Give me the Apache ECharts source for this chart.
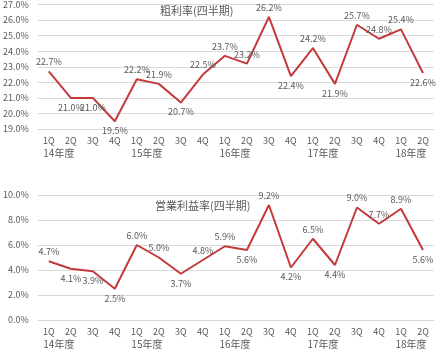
<!DOCTYPE html>
<html>
<head>
<meta charset="utf-8">
<script src="https://cdn.jsdelivr.net/npm/echarts@6/dist/echarts.min.js"></script>
<style>
  html, body { margin: 0; padding: 0; background: #fff; }
  #chart { width: 436px; height: 352px; }
</style>
</head>
<body>
<div id="chart"></div>
<script>
// categories
const quarters = ['1Q','2Q','3Q','4Q','1Q','2Q','3Q','4Q','1Q','2Q','3Q','4Q','1Q','2Q','3Q','4Q','1Q','2Q'];
const years = ['14年度','15年度','16年度','17年度','18年度'];

// series values (%)
const grossMargin = [22.7, 21.0, 21.0, 19.5, 22.2, 21.9, 20.7, 22.5, 23.7, 23.2, 26.2, 22.4, 24.2, 21.9, 25.7, 24.8, 25.4, 22.6];
const operatingMargin = [4.7, 4.1, 3.9, 2.5, 6.0, 5.0, 3.7, 4.8, 5.9, 5.6, 9.2, 4.2, 6.5, 4.4, 9.0, 7.7, 8.9, 5.6];

const titles = ['粗利率(四半期)', '営業利益率(四半期)'];

// label placement (style only)
const grossLabelPos = ['top','bottom','bottom','bottom','top','top','bottom','top','top','top','top','bottom','top','bottom','top','top','top','bottom'];
const opLabelPos = ['top','bottom','bottom','bottom','top','top','bottom','top','top','bottom','top','bottom','top','bottom','top','top','top','bottom'];

const FONT = '"Noto Sans CJK JP", "Noto Sans", sans-serif';
const TXT = '#595959';
const GRID = '#d9d9d9';
const RED = '#c43a3a';

// year axis uses half-quarter slots so the year label starts under its 1Q label
const yearSlots = [];
quarters.forEach((q, i) => {
  yearSlots.push(i % 4 === 0 ? years[i / 4] : '');
  yearSlots.push('');
});

function xAxes(gridIndex) {
  return [
    {
      type: 'category', gridIndex, data: quarters, boundaryGap: true,
      axisLine: { show: true, lineStyle: { color: GRID } },
      axisTick: { show: false },
      axisLabel: { interval: 0, color: TXT, fontSize: 9, fontFamily: FONT, margin: 7 }
    },
    {
      type: 'category', gridIndex, data: yearSlots, boundaryGap: true, position: 'bottom',
      axisLine: { show: false }, axisTick: { show: false },
      axisLabel: { interval: 0, color: TXT, fontSize: 10, fontFamily: FONT, margin: 19, align: 'left' }
    }
  ];
}

function yAxis(gridIndex, min, max, interval) {
  return {
    type: 'value', gridIndex, min, max, interval,
    axisLine: { show: false }, axisTick: { show: false },
    splitLine: { lineStyle: { color: GRID, width: 1 } },
    axisLabel: {
      color: TXT, fontSize: 9, fontFamily: FONT, margin: 9,
      formatter: v => v.toFixed(1) + '%'
    }
  };
}

function lineSeries(idx, values, positions) {
  return {
    type: 'line', xAxisIndex: idx * 2, yAxisIndex: idx,
    data: values.map((v, i) => ({ value: v, label: { position: positions[i] } })),
    showSymbol: true, symbol: 'circle', symbolSize: 0,
    lineStyle: { color: RED, width: 2 },
    itemStyle: { color: RED },
    label: {
      show: true, color: TXT, fontSize: 9, fontFamily: FONT, distance: 5,
      formatter: p => p.value.toFixed(1) + '%'
    },
    labelLayout: { hideOverlap: false },
    animation: false
  };
}

const chart = echarts.init(document.getElementById('chart'), null, { renderer: 'canvas' });
chart.setOption({
  backgroundColor: '#fff',
  animation: false,
  title: [
    { text: titles[0], left: 155, top: 0, textStyle: { color: TXT, fontSize: 11, fontWeight: 'normal', fontFamily: FONT } },
    { text: titles[1], left: 150, top: 195, textStyle: { color: TXT, fontSize: 11, fontWeight: 'normal', fontFamily: FONT } }
  ],
  grid: [
    { left: 32, right: 2, top: 3, height: 126 },
    { left: 32, right: 2, top: 195, height: 125 }
  ],
  xAxis: [...xAxes(0), ...xAxes(1)],
  yAxis: [yAxis(0, 19, 27, 1), yAxis(1, 0, 10, 2)],
  series: [
    lineSeries(0, grossMargin, grossLabelPos),
    lineSeries(1, operatingMargin, opLabelPos)
  ]
});
</script>
</body>
</html>
